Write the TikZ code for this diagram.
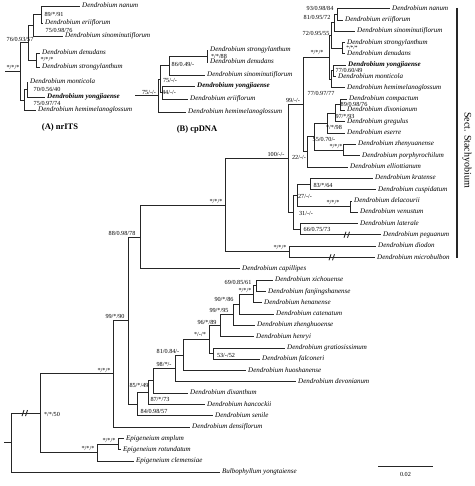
\documentclass[tikz,border=0pt]{standalone}
\usepackage{fontspec}
\setmainfont{Liberation Serif}

\begin{document}
\begin{tikzpicture}[x=1pt, y=-1pt,
  branch/.style={line width=0.55pt, black!85},
  leaf/.style={anchor=west, inner xsep=2pt, inner ysep=0pt, text height=4.9pt, text depth=1.5pt, font=\fontsize{7}{8}\selectfont\itshape},
  newsp/.style={leaf, font=\fontsize{7}{8}\selectfont\bfseries\itshape},
  sup/.style={inner sep=0pt, font=\fontsize{6.2}{7}\selectfont},
  brkline/.style={line width=0.9pt, black!85},
  title/.style={font=\fontsize{8.5}{10}\selectfont\bfseries}]
  \useasboundingbox (0,0) rectangle (474,486);

  % (A) nrITS
  \node[leaf] (a-nanum) at (80,6) {Dendrobium nanum};
  \node[leaf] (a-eriiflorum) at (43,23) {Dendrobium eriiflorum};
  \node[leaf] (a-sino) at (63,36) {Dendrobium sinominutiflorum};
  \node[leaf] (a-denudans) at (40,53) {Dendrobium denudans};
  \node[leaf] (a-strongy) at (40,67) {Dendrobium strongylanthum};
  \node[leaf] (a-monticola) at (28,82) {Dendrobium monticola};
  \node[newsp] (a-yongjiaense) at (45,97) {Dendrobium yongjiaense};
  \node[leaf] (a-hemimel) at (36,110) {Dendrobium hemimelanoglossum};
  \coordinate (a93) at (41,14.5);
  \coordinate (a81) at (33,25.2);
  \coordinate (asd) at (36,60);
  \coordinate (a76) at (28,42.6);
  \coordinate (a70) at (27,89.5);
  \coordinate (a75) at (24,99.8);
  \coordinate (aroot) at (20,71.2);
  \coordinate (astart) at (5,71.2);
  \draw[branch] (a93) |- (a-nanum.west) (a93) |- (a-eriiflorum.west);
  \draw[branch] (a81) |- (a93) (a81) |- (a-sino.west);
  \draw[branch] (asd) |- (a-denudans.west) (asd) |- (a-strongy.west);
  \draw[branch] (a76) |- (a81) (a76) |- (asd);
  \draw[branch] (a70) |- (a-monticola.west) (a70) |- (a-yongjiaense.west);
  \draw[branch] (a75) |- (a70) (a75) |- (a-hemimel.west);
  \draw[branch] (aroot) |- (a76) (aroot) |- (a75);
  \draw[branch] (astart) -- (aroot);
  \node[sup] (sa-root) at (13,67) {*/*/*};
  \node[sup] (sa93) at (54,14.5) {89/*/91};
  \node[sup] (sa81) at (59,30) {75/0.98/76};
  \node[sup] (sa76) at (20,39) {76/0.93/57};
  \node[sup] (sasd) at (47,59.5) {*/*/*};
  \node[sup] (sa70) at (47,89) {70/0.56/40};
  \node[sup] (sa75) at (47,103) {75/0.97/74};
  \node[title] (titleA) at (60,127) {(A) nrITS};

  % (B) cpDNA
  \node[leaf] (b-strongy) at (208,50) {Dendrobium strongylanthum};
  \node[leaf] (b-denudans) at (208,62) {Dendrobium denudans};
  \node[leaf] (b-sino) at (205,75) {Dendrobium sinominutiflorum};
  \node[newsp] (b-yongjiaense) at (195,86) {Dendrobium yongjiaense};
  \node[leaf] (b-eriiflorum) at (188,99) {Dendrobium eriiflorum};
  \node[leaf] (b-hemimel) at (186,112) {Dendrobium hemimelanoglossum};
  \coordinate (bsd) at (207,56);
  \coordinate (b86) at (169,65.5);
  \coordinate (b44) at (162,92.5);
  \coordinate (b75) at (160,79);
  \coordinate (broot) at (158,95.5);
  \coordinate (bstart) at (135,95.5);
  \draw[branch] (bsd) |- (b-strongy.west) (bsd) |- (b-denudans.west);
  \draw[branch] (b86) |- (bsd) (b86) |- (b-sino.west);
  \draw[branch] (b44) |- (b-yongjiaense.west) (b44) |- (b-eriiflorum.west);
  \draw[branch] (b75) |- (b86) (b75) |- (b44);
  \draw[branch] (broot) |- (b75) (broot) |- (b-hemimel.west);
  \draw[branch] (bstart) -- (broot);
  \node[sup] (sb-root) at (149,92) {75/-/-};
  \node[sup] (sb86) at (183,64) {86/0.49/-};
  \node[sup] (sbsd) at (219,56) {*/*/88};
  \node[sup] (sb75) at (170,80) {75/-/-};
  \node[sup] (sb44) at (169,92.5) {44/-/-};
  \node[title] (titleB) at (197,129) {(B) cpDNA};

  % combined tree
  \node[leaf] (nanum) at (390,8.5) {Dendrobium nanum};
  \node[leaf] (eriiflorum) at (343,19.8) {Dendrobium eriiflorum};
  \node[leaf] (sinominutiflorum) at (355,31.1) {Dendrobium sinominutiflorum};
  \node[leaf] (strongylanthum) at (345,42.4) {Dendrobium strongylanthum};
  \node[leaf] (denudans) at (345,53.7) {Dendrobium denudans};
  \node[newsp] (yongjiaense) at (346,65.1) {Dendrobium yongjiaense};
  \node[leaf] (monticola) at (336,76.4) {Dendrobium monticola};
  \node[leaf] (hemimelanoglossum) at (345,87.7) {Dendrobium hemimelanoglossum};
  \node[leaf] (compactum) at (347,99.0) {Dendrobium compactum};
  \node[leaf] (dixonianum) at (345,110.3) {Dendrobium dixonianum};
  \node[leaf] (gregulus) at (345,121.6) {Dendrobium gregulus};
  \node[leaf] (eserre) at (345,132.9) {Dendrobium eserre};
  \node[leaf] (zhenyuanense) at (356,144.2) {Dendrobium zhenyuanense};
  \node[leaf] (porphyrochilum) at (360,155.5) {Dendrobium porphyrochilum};
  \node[leaf] (elliottianum) at (348,166.8) {Dendrobium elliottianum};
  \node[leaf] (kratense) at (373,178.2) {Dendrobium kratense};
  \node[leaf] (cuspidatum) at (376,189.5) {Dendrobium cuspidatum};
  \node[leaf] (delacourii) at (352,200.8) {Dendrobium delacourii};
  \node[leaf] (venustum) at (358,212.1) {Dendrobium venustum};
  \node[leaf] (laterale) at (358,223.4) {Dendrobium laterale};
  \node[leaf] (peguanum) at (381,234.7) {Dendrobium peguanum};
  \node[leaf] (diodon) at (376,246.0) {Dendrobium diodon};
  \node[leaf] (microbulbon) at (375,257.3) {Dendrobium microbulbon};
  \node[leaf] (capillipes) at (240,268.6) {Dendrobium capillipes};
  \node[leaf] (xichouense) at (273,279.9) {Dendrobium xichouense};
  \node[leaf] (fanjingshanense) at (266,291.3) {Dendrobium fanjingshanense};
  \node[leaf] (henanense) at (262,302.6) {Dendrobium henanense};
  \node[leaf] (catenatum) at (274,313.9) {Dendrobium catenatum};
  \node[leaf] (zhenghuoense) at (255,325.2) {Dendrobium zhenghuoense};
  \node[leaf] (henryi) at (254,336.5) {Dendrobium henryi};
  \node[leaf] (gratiosissimum) at (285,347.8) {Dendrobium gratiosissimum};
  \node[leaf] (falconeri) at (260,359.1) {Dendrobium falconeri};
  \node[leaf] (huoshanense) at (246,370.4) {Dendrobium huoshanense};
  \node[leaf] (devonianum) at (296,381.7) {Dendrobium devonianum};
  \node[leaf] (dixanthum) at (188,393.0) {Dendrobium dixanthum};
  \node[leaf] (hancockii) at (205,404.4) {Dendrobium hancockii};
  \node[leaf] (senile) at (213,415.7) {Dendrobium senile};
  \node[leaf] (densiflorum) at (190,427.0) {Dendrobium densiflorum};
  \node[leaf] (amplum) at (124,438.3) {Epigeneium amplum};
  \node[leaf] (rotundatum) at (121,449.6) {Epigeneium rotundatum};
  \node[leaf] (clemensiae) at (134,460.9) {Epigeneium clemensiae};
  \node[leaf] (bulbophyllum) at (220,472.2) {Bulbophyllum yongtaiense};

  \coordinate (n93) at (337,14.2);
  \coordinate (n81) at (334,22.6);
  \coordinate (nsd) at (342,48.1);
  \coordinate (n72) at (331,35.4);
  \coordinate (n77a) at (333,70.7);
  \coordinate (n77b) at (331,79.2);
  \coordinate (nyj) at (329,57.3);
  \coordinate (n89) at (340,104.7);
  \coordinate (n97) at (335,113.1);
  \coordinate (n98s) at (327,123.0);
  \coordinate (nzp) at (343,149.9);
  \coordinate (n55) at (314,136.4);
  \coordinate (n22) at (307,151.6);
  \coordinate (n99) at (303,104.5);
  \coordinate (n83) at (310,183.8);
  \coordinate (ndv) at (350,206.5);
  \coordinate (n27) at (297,195.1);
  \coordinate (n66) at (300,229.1);
  \coordinate (n31) at (293,212.1);
  \coordinate (n100) at (288,158.3);
  \coordinate (ndm) at (289,251.6);
  \coordinate (nstar) at (225,205.0);
  \coordinate (n88) at (140,236.8);
  \coordinate (n69) at (256,285.6);
  \coordinate (nxfh) at (253,294.1);
  \coordinate (n90) at (239,304.0);
  \coordinate (n99b) at (233,314.6);
  \coordinate (n96) at (220,325.5);
  \coordinate (n53) at (213,353.4);
  \coordinate (nhg) at (209,339.5);
  \coordinate (n81b) at (183,354.9);
  \coordinate (n98) at (175,368.3);
  \coordinate (n85) at (153,380.7);
  \coordinate (n87) at (148,392.5);
  \coordinate (n84) at (137,404.1);
  \coordinate (n99c) at (128,320.4);
  \coordinate (ndend) at (113,373.7);
  \coordinate (nam) at (118,444.0);
  \coordinate (nepi) at (97,452.4);
  \coordinate (nout) at (40,413.1);
  \coordinate (nroot) at (11,442.6);
  \coordinate (rootstart) at (4,442.6);

  \draw[branch] (n93) |- (nanum.west) (n93) |- (eriiflorum.west);
  \draw[branch] (n81) |- (n93) (n81) |- (sinominutiflorum.west);
  \draw[branch] (nsd) |- (strongylanthum.west) (nsd) |- (denudans.west);
  \draw[branch] (n72) |- (n81) (n72) |- (nsd);
  \draw[branch] (n77a) |- (yongjiaense.west) (n77a) |- (monticola.west);
  \draw[branch] (n77b) |- (n77a) (n77b) |- (hemimelanoglossum.west);
  \draw[branch] (nyj) |- (n72) (nyj) |- (n77b);
  \draw[branch] (n89) |- (compactum.west) (n89) |- (dixonianum.west);
  \draw[branch] (n97) |- (n89) (n97) |- (gregulus.west);
  \draw[branch] (n98s) |- (n97) (n98s) |- (eserre.west);
  \draw[branch] (nzp) |- (zhenyuanense.west) (nzp) |- (porphyrochilum.west);
  \draw[branch] (n55) |- (n98s) (n55) |- (nzp);
  \draw[branch] (n22) |- (n55) (n22) |- (elliottianum.west);
  \draw[branch] (n99) |- (nyj) (n99) |- (n22);
  \draw[branch] (n83) |- (kratense.west) (n83) |- (cuspidatum.west);
  \draw[branch] (ndv) |- (delacourii.west) (ndv) |- (venustum.west);
  \draw[branch] (n27) |- (n83) (n27) |- (ndv);
  \draw[branch] (n66) |- (laterale.west) (n66) |- (peguanum.west);
  \draw[branch] (n31) |- (n27) (n31) |- (n66);
  \draw[branch] (n100) |- (n99) (n100) |- (n31);
  \draw[branch] (ndm) |- (diodon.west) (ndm) |- (microbulbon.west);
  \draw[branch] (nstar) |- (n100) (nstar) |- (ndm);
  \draw[branch] (n88) |- (nstar) (n88) |- (capillipes.west);
  \draw[branch] (n69) |- (xichouense.west) (n69) |- (fanjingshanense.west);
  \draw[branch] (nxfh) |- (n69) (nxfh) |- (henanense.west);
  \draw[branch] (n90) |- (nxfh) (n90) |- (catenatum.west);
  \draw[branch] (n99b) |- (n90) (n99b) |- (zhenghuoense.west);
  \draw[branch] (n96) |- (n99b) (n96) |- (henryi.west);
  \draw[branch] (n53) |- (gratiosissimum.west) (n53) |- (falconeri.west);
  \draw[branch] (nhg) |- (n96) (nhg) |- (n53);
  \draw[branch] (n81b) |- (nhg) (n81b) |- (huoshanense.west);
  \draw[branch] (n98) |- (n81b) (n98) |- (devonianum.west);
  \draw[branch] (n85) |- (n98) (n85) |- (dixanthum.west);
  \draw[branch] (n87) |- (n85) (n87) |- (hancockii.west);
  \draw[branch] (n84) |- (n87) (n84) |- (senile.west);
  \draw[branch] (n99c) |- (n88) (n99c) |- (n84);
  \draw[branch] (ndend) |- (n99c) (ndend) |- (densiflorum.west);
  \draw[branch] (nam) |- (amplum.west) (nam) |- (rotundatum.west);
  \draw[branch] (nepi) |- (nam) (nepi) |- (clemensiae.west);
  \draw[branch] (nout) |- (ndend) (nout) |- (nepi);
  \draw[branch] (nroot) |- (nout) (nroot) |- (bulbophyllum.west);
  \draw[branch] (rootstart) -- (nroot);

  % broken branches
  \coordinate (brk-root) at (25,413.1);
  \coordinate (brk-peg) at (347,234.7);
  \coordinate (brk-mic) at (332,257.3);
  \draw[brkline] (brk-root) ++(-3,3) -- ++(2,-6) (brk-root) ++(0.5,3) -- ++(2,-6);
  \draw[brkline] (brk-peg) ++(-3,3) -- ++(2,-6) (brk-peg) ++(0.5,3) -- ++(2,-6);
  \draw[brkline] (brk-mic) ++(-3,3) -- ++(2,-6) (brk-mic) ++(0.5,3) -- ++(2,-6);

  \node[sup] (s93) at (320,8) {93/0.98/84};
  \node[sup] (s81) at (317,17) {81/0.95/72};
  \node[sup] (s72) at (316,33) {72/0.95/55};
  \node[sup, font=\fontsize{5.4}{6}\selectfont] (ssd) at (352,48.2) {*/*/*};
  \node[sup] (snyj) at (317,52) {*/*/*};
  \node[sup] (s77a) at (349,70.3) {77/0.60/49};
  \node[sup] (s77b) at (321,93) {77/0.97/77};
  \node[sup] (s99) at (293,100) {99/-/-};
  \node[sup] (s89) at (354,104.5) {89/0.98/76};
  \node[sup] (s97) at (345,116) {97/*/93};
  \node[sup] (s98s) at (334,127) {*/*/98};
  \node[sup] (s55) at (324,139) {55/0.70/-};
  \node[sup] (szp) at (336,146) {*/*/*};
  \node[sup] (s22) at (299,157) {22/-/-};
  \node[sup] (s100) at (276,154) {100/-/-};
  \node[sup] (s83) at (323,185) {83/*/64};
  \node[sup] (s27) at (305,196) {27/-/-};
  \node[sup] (sdv) at (333,202) {*/*/*};
  \node[sup] (s31) at (306,213) {31/-/-};
  \node[sup] (s66) at (317,229) {66/0.75/73};
  \node[sup] (sdm) at (280,247) {*/*/*};
  \node[sup] (sstar) at (216,201) {*/*/*};
  \node[sup] (s88) at (122,233) {88/0.98/78};
  \node[sup] (s69) at (238,282) {69/0.85/61};
  \node[sup] (sxfh) at (245,290) {*/*/*};
  \node[sup] (s90) at (224,299) {90/*/86};
  \node[sup] (s99b) at (219,310) {99/*/95};
  \node[sup] (s96) at (207,322) {96/*/89};
  \node[sup] (shg) at (200,334) {*/-/*};
  \node[sup] (s53) at (226,355) {53/-/52};
  \node[sup] (s81b) at (168,351) {81/0.84/-};
  \node[sup] (s98) at (164,364) {98/*/-};
  \node[sup] (s85) at (139,385) {85/*/49};
  \node[sup] (s87) at (160,399) {87/*/73};
  \node[sup] (s84) at (154,411) {84/0.98/57};
  \node[sup] (s99c) at (115,316) {99/*/90};
  \node[sup] (sdend) at (104,370) {*/*/*};
  \node[sup] (sout) at (52,414) {*/*/50};
  \node[sup] (sepi) at (88,448) {*/*/*};
  \node[sup] (sam) at (109,440) {*/*/*};

  % section bar and scale
  \coordinate (bartop) at (457,8);
  \coordinate (barbot) at (457,258);
  \draw[line width=1.2pt, black!85] (bartop) -- (barbot);
  \node[rotate=-90, font=\fontsize{10}{12}\selectfont] (sect) at (467,150) {Sect. Stachyobium};
  \coordinate (scale-l) at (378,466);
  \coordinate (scale-r) at (433,466);
  \draw[branch] (scale-l) -- (scale-r);
  \node[sup] (scale-txt) at (405.5,474) {0.02};
\end{tikzpicture}
\end{document}
